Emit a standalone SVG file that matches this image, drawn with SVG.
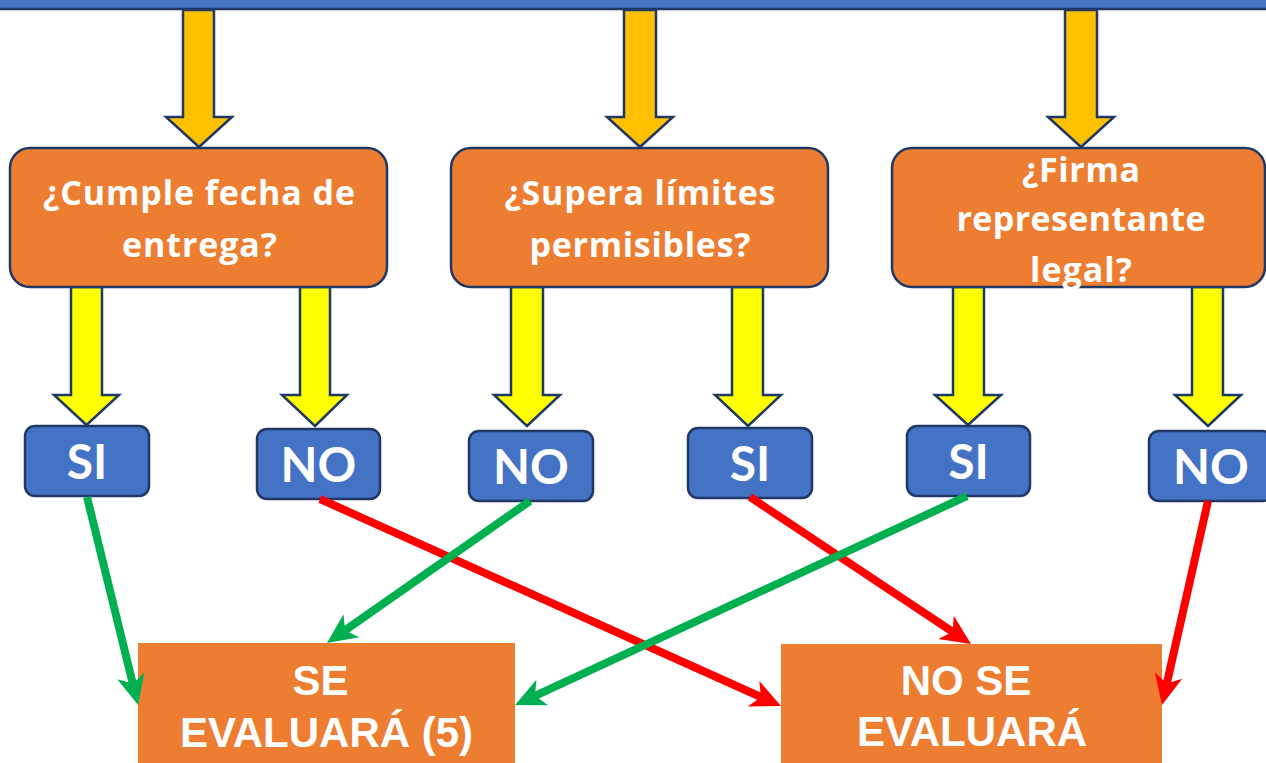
<svg xmlns="http://www.w3.org/2000/svg" width="1266" height="763" viewBox="0 0 1266 763">
<style>
.bar{fill:#4472C4;stroke:#1F3864;stroke-width:2.5}
.oarrow{fill:#FFC000;stroke:#1F3864;stroke-width:2.5;stroke-linejoin:miter}
.yarrow{fill:#FFFF00;stroke:#1F3864;stroke-width:2.5;stroke-linejoin:miter}
.q{fill:#ED7D31;stroke:#1F3864;stroke-width:2.5}
.qt{fill:#FFFFFF;font-family:"Open Sans",Lato,"Liberation Sans",sans-serif;font-weight:bold;font-size:34px;text-anchor:middle}
.a{fill:#4472C4;stroke:#1F3864;stroke-width:2.5}
.at{fill:#FFFFFF;font-family:Lato,"Open Sans","Liberation Sans",sans-serif;font-weight:bold;font-size:48px;text-anchor:middle}
.r{fill:#ED7D31}
.rt{fill:#FFFFFF;font-family:"Liberation Sans",Arial,sans-serif;font-weight:bold;font-size:42px;text-anchor:middle}
.g{stroke:#00B050;stroke-width:8;fill:none;marker-end:url(#mg)}
.rd{stroke:#FF0000;stroke-width:8;fill:none;marker-end:url(#mr)}
</style>
<defs>
<marker id="mg" markerUnits="userSpaceOnUse" orient="auto" refX="0" refY="0" markerWidth="40" markerHeight="40" overflow="visible">
<path d="M22 0 L-8 -14 L0 0 L-8 14 Z" fill="#00B050"/>
</marker>
<marker id="mr" markerUnits="userSpaceOnUse" orient="auto" refX="0" refY="0" markerWidth="40" markerHeight="40" overflow="visible">
<path d="M22 0 L-8 -14 L0 0 L-8 14 Z" fill="#FF0000"/>
</marker>
</defs>
<rect width="1266" height="763" fill="#FFFFFF"/>
<g id="top-bar"><rect class="bar" x="-10" y="-10" width="1286" height="19"/></g>

<g id="block-arrows">
<polygon class="oarrow" points="183,10 214,10 214,117 232,117 199,147 166,117 183,117"/>
<polygon class="oarrow" points="624,10 656,10 656,117 673,117 640,147 607,117 624,117"/>
<polygon class="oarrow" points="1065,10 1097,10 1097,117 1114,117 1081,147 1048,117 1065,117"/>
<polygon class="yarrow" points="71,287 102,287 102,395 119,395 86.5,425 54,395 71,395"/>
<polygon class="yarrow" points="300,287 330,287 330,395 347,395 315,426 282,395 300,395"/>
<polygon class="yarrow" points="511,287 543,287 543,395 560,395 527,426 494,395 511,395"/>
<polygon class="yarrow" points="732,287 763,287 763,395 781,395 748,426 715,395 732,395"/>
<polygon class="yarrow" points="953,287 984,287 984,395 1001,395 968,425 935,395 953,395"/>
<polygon class="yarrow" points="1192,287 1223,287 1223,395 1241,395 1208,426 1175,395 1192,395"/>
</g>

<g id="q1"><rect class="q" x="10" y="148" width="377" height="139" rx="20"/>
<text class="qt" x="199" y="205" textLength="312">¿Cumple fecha de</text>
<text class="qt" x="199.5" y="257" textLength="155">entrega?</text></g>
<g id="q2"><rect class="q" x="451" y="148" width="377" height="139" rx="20"/>
<text class="qt" x="640" y="205" textLength="271">¿Supera límites</text>
<text class="qt" x="640" y="257" textLength="221">permisibles?</text></g>
<g id="q3"><rect class="q" x="892" y="148" width="373" height="139" rx="20"/>
<text class="qt" x="1081" y="182" textLength="118">¿Firma</text>
<text class="qt" x="1081" y="231" textLength="249">representante</text>
<text class="qt" x="1081" y="282" textLength="102">legal?</text></g>

<g id="si1"><rect class="a" x="25" y="426" width="124" height="70" rx="10"/><text class="at" x="87" y="479">SI</text></g>
<g id="no1"><rect class="a" x="257" y="429" width="123" height="70" rx="10"/><text class="at" x="318.5" y="482">NO</text></g>
<g id="no2"><rect class="a" x="469" y="431" width="124" height="70" rx="10"/><text class="at" x="531" y="484">NO</text></g>
<g id="si2"><rect class="a" x="688" y="428" width="124" height="70" rx="10"/><text class="at" x="750" y="481">SI</text></g>
<g id="si3"><rect class="a" x="907" y="426" width="123" height="70" rx="10"/><text class="at" x="968.5" y="479">SI</text></g>
<g id="no3"><rect class="a" x="1149" y="431" width="124" height="70" rx="10"/><text class="at" x="1211" y="484">NO</text></g>

<g id="r1"><rect class="r" x="138" y="643" width="377" height="140"/>
<text class="rt" x="320.5" y="695">SE</text>
<text class="rt" x="326.5" y="747">EVALUARÁ (5)</text></g>
<g id="r2"><rect class="r" x="781" y="644" width="381" height="140"/>
<text class="rt" x="966" y="695">NO SE</text>
<text class="rt" x="972" y="746">EVALUARÁ</text></g>

<g id="connectors">
<line class="g" x1="87" y1="497" x2="132.8" y2="683.6"/>
<line class="rd" x1="320" y1="499" x2="760.9" y2="697"/>
<line class="g" x1="530" y1="501" x2="345" y2="630.4"/>
<line class="rd" x1="750" y1="497" x2="952.7" y2="631.8"/>
<line class="g" x1="967" y1="496" x2="535" y2="695.8"/>
<line class="rd" x1="1208" y1="501" x2="1166.8" y2="683.5"/>
</g>
</svg>
